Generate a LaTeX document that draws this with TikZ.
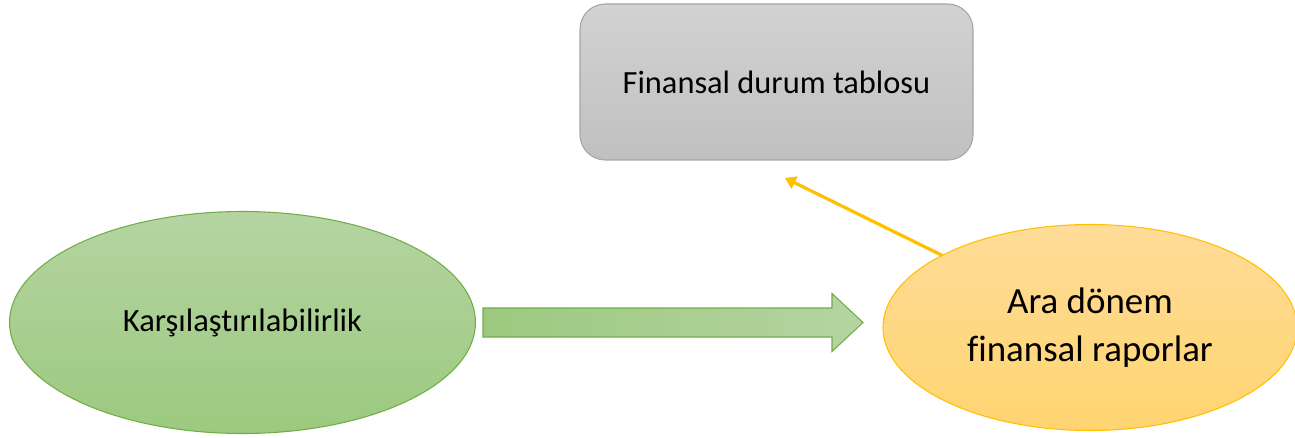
\documentclass[tikz,border=0pt]{standalone}
\usepackage{fontspec}
\setmainfont[Ligatures={NoCommon}]{Carlito}
\usetikzlibrary{arrows.meta,shapes.geometric}
\definecolor{boxfillT}{HTML}{D2D2D2}
\definecolor{boxfillB}{HTML}{C0C0C0}
\definecolor{boxline}{HTML}{A5A5A5}
\definecolor{grT}{HTML}{B5D4A2}
\definecolor{grB}{HTML}{9CC97F}
\definecolor{grLine}{HTML}{70AD47}
\definecolor{yeT}{HTML}{FFDC98}
\definecolor{yeB}{HTML}{FFD470}
\definecolor{yeLine}{HTML}{FFC000}
\tikzset{
  grayshape/.style={rectangle, rounded corners=19pt, draw=boxline, line width=0.8pt,
    top color=boxfillT, bottom color=boxfillB, minimum width=294.75pt, minimum height=117pt,
    inner sep=0pt, outer sep=0pt, font=\fontsize{24.3pt}{29pt}\selectfont},
  greenell/.style={ellipse, draw=grLine, line width=0.8pt, top color=grT, bottom color=grB,
    minimum width=349.5pt, minimum height=166.5pt, inner sep=0pt, outer sep=0pt,
    font=\fontsize{24.4pt}{29pt}\selectfont},
  yellowell/.style={ellipse, draw=yeLine, line width=0.8pt, top color=yeT, bottom color=yeB,
    minimum width=310.5pt, minimum height=154.5pt, inner sep=0pt, outer sep=0pt,
    align=center, font=\fontsize{27.7pt}{36pt}\selectfont},
  yellowarrow/.style={draw=yeLine, line width=2.4pt, -{Triangle[length=8pt,width=10pt]}},
  blockarrow/.style={draw=grLine, line width=0.8pt, left color=grB, right color=grT}
}
\begin{document}
\begin{tikzpicture}[x=0.75pt,y=-0.75pt]
\useasboundingbox (0,0) rectangle (1295,438);
\node[grayshape] (fdt) at (776.5,82) {Finansal durum tablosu};
\node[greenell] (kar) at (242.5,322.5) {Karşılaştırılabilirlik};
\node[yellowell] (adf) at (1090,327.5) {Ara dönem\\finansal raporlar};
% block arrow between the ellipses
\coordinate (bs) at (483,322.5);
\coordinate (bt) at (863,322.5);
\path[blockarrow] (bs) ++(0,-14.5) -- ++(349,0) -- ++(0,-14.5) -- (bt)
  -- ++(-31,29) -- ++(0,-14.5) -- ++(-349,0) -- cycle;
\coordinate (yend) at (785,178);
\draw[yellowarrow] (adf.154) -- (yend);
\end{tikzpicture}
\end{document}
